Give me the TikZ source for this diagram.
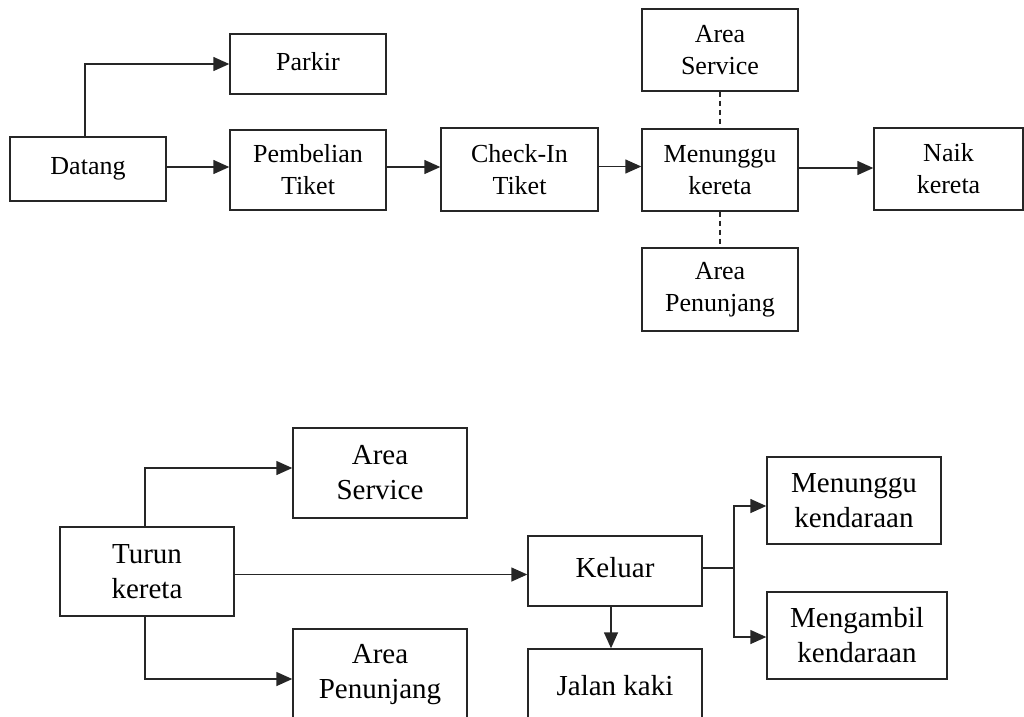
\documentclass[tikz,border=0pt]{standalone}
\usepackage{fontspec}
\setmainfont{Liberation Serif}
\usetikzlibrary{arrows.meta}
\begin{document}
\begin{tikzpicture}[x=1pt,y=-1pt,
  line/.style={draw=black!85,line width=1.4pt},
  arr/.style={line,-{Triangle[length=16pt,width=14pt]}},
  dsh/.style={line,dash pattern=on 5pt off 4pt},
  topbox/.style={line,rectangle,align=center,inner sep=0pt,font=\fontsize{26}{32}\selectfont},
  botbox/.style={line,rectangle,align=center,inner sep=0pt,font=\fontsize{29}{35}\selectfont}]
\useasboundingbox (0,0) rectangle (1024,716);
% top diagram
\node[topbox,minimum width=156pt,minimum height=64pt] (datang) at (88,169) {\raisebox{6pt}{Datang}};
\node[topbox,minimum width=156pt,minimum height=60pt] (parkir) at (308,64) {\raisebox{5pt}{Parkir}};
\node[topbox,minimum width=156pt,minimum height=80pt] (pemb) at (308,170) {Pembelian\\Tiket};
\node[topbox,minimum width=157pt,minimum height=83pt] (check) at (519.5,169.5) {Check-In\\Tiket};
\node[topbox,minimum width=156pt,minimum height=82pt] (menunggu) at (720,170) {Menunggu\\kereta};
\node[topbox,minimum width=156pt,minimum height=82pt] (aserv1) at (720,50) {Area\\Service};
\node[topbox,minimum width=156pt,minimum height=83pt] (apen1) at (720,289.5) {Area\\Penunjang};
\node[topbox,minimum width=149pt,minimum height=82pt] (naik) at (948.5,169) {Naik\\kereta};
\draw[arr] (datang.north -| 85,0) |- (parkir.west);
\draw[arr] ([yshift=2pt]datang.east) -- ([yshift=2pt]datang.east -| pemb.west);
\draw[arr] ([yshift=3pt]pemb.east) -- ([yshift=3pt]pemb.east -| check.west);
\draw[arr] ([yshift=3pt]check.east) -- ([yshift=3pt]check.east -| menunggu.west);
\draw[arr] ([yshift=2pt]menunggu.east) -- ([yshift=2pt]menunggu.east -| naik.west);
\draw[dsh] (aserv1.south) -- (menunggu.north);
\draw[dsh] (menunggu.south) -- (apen1.north);
% bottom diagram
\node[botbox,minimum width=174pt,minimum height=89pt] (turun) at (147,571.5) {Turun\\kereta};
\node[botbox,minimum width=174pt,minimum height=90pt] (aserv2) at (380,473) {Area\\Service};
\node[botbox,minimum width=174pt,minimum height=91pt] (apen2) at (380,674.5) {Area\\Penunjang};
\node[botbox,minimum width=174pt,minimum height=70pt] (keluar) at (615,571) {\raisebox{8pt}{Keluar}};
\node[botbox,minimum width=174pt,minimum height=90pt] (jalan) at (615,694) {\raisebox{18pt}{Jalan kaki}};
\node[botbox,minimum width=174pt,minimum height=87pt] (mtunggu) at (854,500.5) {Menunggu\\kendaraan};
\node[botbox,minimum width=180pt,minimum height=87pt] (mambil) at (857,635.5) {Mengambil\\kendaraan};
\coordinate (br) at (734,568);
\draw[arr] (turun.north -| 145,0) |- ([yshift=5pt]aserv2.west);
\draw[arr] (turun.south -| 145,0) |- ([yshift=-4.5pt]apen2.west);
\draw[arr] ([yshift=-3pt]turun.east) -- ([yshift=-3pt]turun.east -| keluar.west);
\draw[arr] (keluar.south -| 611,0) -- (jalan.north -| 611,0);
\draw[line] ([yshift=3pt]keluar.east) -- (br);
\draw[arr] (br) |- ([yshift=-5.5pt]mtunggu.west);
\draw[arr] (br) |- ([yshift=-1.5pt]mambil.west);
\end{tikzpicture}
\end{document}
